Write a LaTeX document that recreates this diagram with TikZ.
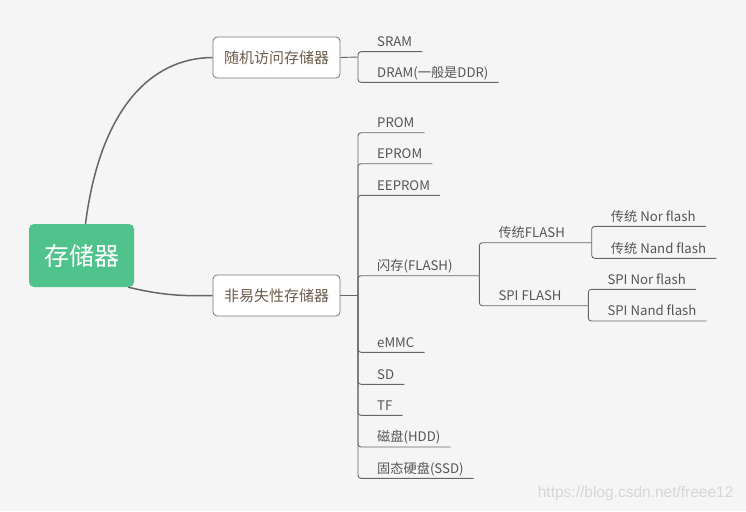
\documentclass[tikz,border=0pt]{standalone}
\usepackage{fontspec}
\setmainfont{Noto Sans CJK SC}
\newfontfamily\markfont{Liberation Sans}
\usepackage{tikz}
\usetikzlibrary{positioning}

\definecolor{bgcol}{HTML}{F5F5F5}
\definecolor{rootgreen}{HTML}{50C28C}
\definecolor{boxline}{HTML}{777777}
\definecolor{topictext}{HTML}{6B5B4B}
\definecolor{leaftext}{HTML}{555555}
\definecolor{linegray}{HTML}{666666}
\definecolor{markgray}{HTML}{D6D6D6}

\begin{document}
\begin{tikzpicture}[
    x=1pt, y=-1pt,
    rootbox/.style={fill=rootgreen, rounded corners=5pt, minimum width=105pt,
      minimum height=63pt, text=white, font=\fontsize{25}{30}\selectfont},
    topic/.style={draw=boxline, fill=white, rounded corners=4pt, line width=0.8pt,
      minimum width=127pt, minimum height=41pt, text=topictext,
      font=\fontsize{15}{18}\selectfont},
    leaf/.style={anchor=south west, inner xsep=10pt, inner ysep=2pt,
      text height=10pt, text depth=3pt, text=leaftext,
      font=\fontsize{13.2}{15}\selectfont},
    branch/.style={draw=linegray, line width=1.5pt},
    twig/.style={draw=linegray, line width=0.9pt, rounded corners=3pt}
]
\fill[bgcol] (0,0) rectangle (746,511);
\useasboundingbox (0,0) rectangle (746,511);

% main topics
\node[rootbox] (root) at (81.5,255.5) {存储器};
\node[topic] (ram) at (276.5,57.5) {随机访问存储器};
\node[topic] (nvm) at (276.5,295.5) {非易失性存储器};
\draw[branch] ([xshift=4pt]root.north) .. controls (100,110) and (150,58) .. (ram.west);
\draw[branch] ([xshift=-6pt]root.south east) .. controls (165,296) and (185,296) .. (nvm.west);

% random access memory
\coordinate (ramj) at (358,57);
\node[leaf] (sram) at (367,51.7) {SRAM};
\node[leaf] (dram) at (367,82.3) {DRAM(一般是DDR)};
\draw[twig] (ram.east) -- (ramj);
\draw[twig] (ramj) |- (sram.south east);
\draw[twig] (ramj) |- (dram.south east);

% non-volatile memory
\coordinate (nvmj) at (358,295.5);
\node[leaf] (prom) at (367,132.7) {PROM};
\node[leaf] (eprom) at (367,163.7) {EPROM};
\node[leaf] (eeprom) at (367,195.3) {EEPROM};
\node[leaf] (flash) at (367,275.7) {闪存(FLASH)};
\node[leaf] (emmc) at (367,352.3) {eMMC};
\node[leaf] (sd) at (367,384.3) {SD};
\node[leaf] (tf) at (367,415.3) {TF};
\node[leaf] (hdd) at (367,447) {磁盘(HDD)};
\node[leaf] (ssd) at (367,478.3) {固态硬盘(SSD)};
\draw[twig, line width=1.3pt] (nvm.east) -- (nvmj);
\draw[twig] (nvmj) |- (prom.south east);
\draw[twig] (nvmj) |- (eprom.south east);
\draw[twig] (nvmj) |- (eeprom.south east);
\draw[twig] (nvmj) |- (emmc.south east);
\draw[twig] (nvmj) |- (sd.south east);
\draw[twig] (nvmj) |- (tf.south east);
\draw[twig] (nvmj) |- (hdd.south east);
\draw[twig] (nvmj) |- (ssd.south east);

% flash
\coordinate (flashj) at (479.3,275.7);
\draw[twig] (nvmj) |- (flashj);
\node[leaf] (trad) at (488.3,242.7) {传统FLASH};
\node[leaf] (spi) at (488.3,305.7) {SPI FLASH};
\coordinate (tradj) at (591.7,242.7);
\coordinate (spij) at (588.3,305.7);
\draw[twig] (flashj) |- (trad.south east) -- (tradj);
\draw[twig] (flashj) |- (spi.south east) -- (spij);

\node[leaf] (tnor) at (600.7,226.3) {传统 Nor flash};
\node[leaf] (tnand) at (600.7,258.3) {传统 Nand flash};
\draw[twig] (tradj) |- (tnor.south east);
\draw[twig] (tradj) |- (tnand.south east);

\node[leaf] (snor) at (597.3,289.3) {SPI Nor flash};
\node[leaf] (snand) at (597.3,321) {SPI Nand flash};
\draw[twig] (spij) |- (snor.south east);
\draw[twig] (spij) |- (snand.south east);

\node[anchor=east, text=markgray, font=\markfont\fontsize{15.5}{18}\selectfont] (mark) at (737,493) {https://blog.csdn.net/freee12};
\end{tikzpicture}
\end{document}
